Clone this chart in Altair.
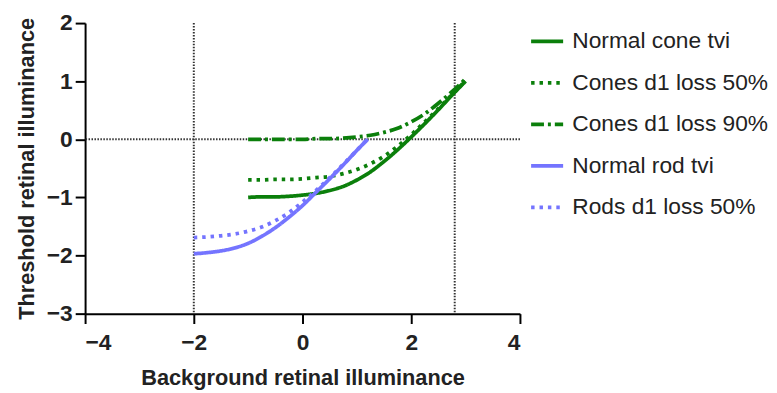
import altair as alt
import pandas as pd

# ---- data ----
series_names = ["Normal cone tvi", "Cones d1 loss 50%", "Cones d1 loss 90%",
                "Normal rod tvi", "Rods d1 loss 50%"]

cone_x = [-1.0, -0.75, -0.5, -0.25, 0.0, 0.25, 0.5, 0.75, 1.0, 1.25, 1.5, 1.75,
          2.0, 2.25, 2.5, 2.75, 3.0]
cone_normal = [-1.00, -0.99, -0.99, -0.98, -0.96, -0.93, -0.88, -0.81, -0.70,
               -0.56, -0.38, -0.18, 0.04, 0.27, 0.51, 0.76, 1.00]
cone_loss50 = [-0.70, -0.70, -0.69, -0.69, -0.68, -0.66, -0.64, -0.59, -0.52,
               -0.42, -0.29, -0.12, 0.08, 0.30, 0.53, 0.77, 1.01]
cone_loss90 = [0.00, 0.00, 0.00, 0.00, 0.00, 0.01, 0.01, 0.02, 0.04, 0.07,
               0.12, 0.19, 0.30, 0.44, 0.62, 0.82, 1.04]

rod_x = [-2.0, -1.75, -1.5, -1.25, -1.0, -0.75, -0.5, -0.25, 0.0, 0.25, 0.5,
         0.75, 1.0, 1.2]
rod_normal = [-1.97, -1.95, -1.92, -1.87, -1.79, -1.67, -1.52, -1.34, -1.14,
              -0.91, -0.68, -0.44, -0.19, 0.00]
rod_loss50 = [-1.69, -1.68, -1.66, -1.63, -1.58, -1.51, -1.40, -1.26, -1.08,
              -0.88, -0.66, -0.43, -0.19, 0.01]

ref_x = [-2.0, 2.8]
ref_y = [0.0]

x_ticks = [-4, -2, 0, 2, 4]
y_ticks = [-3, -2, -1, 0, 1, 2]

# ---- build tables ----
rows = []
for xs, ys, name in [(cone_x, cone_normal, series_names[0]),
                     (cone_x, cone_loss50, series_names[1]),
                     (cone_x, cone_loss90, series_names[2]),
                     (rod_x, rod_normal, series_names[3]),
                     (rod_x, rod_loss50, series_names[4])]:
    for xv, yv in zip(xs, ys):
        rows.append({"x": xv, "y": yv, "series": name})
df = pd.DataFrame(rows)
draw_rank = {series_names[4]: 0, series_names[2]: 1, series_names[1]: 2,
             series_names[3]: 3, series_names[0]: 4}
df["rank"] = df["series"].map(draw_rank)

green = "#0b7f0b"
blue = "#7474ff"
colors = [green, green, green, blue, blue]
dashes = [[1, 0], [3.5, 5], [13, 4, 3, 4], [1, 0], [3.5, 5]]

x_scale = alt.Scale(domain=[-4, 4], nice=False, zero=False)
y_scale = alt.Scale(domain=[-3, 2], nice=False, zero=False)

legend = alt.Legend(symbolType="stroke", symbolSize=1050, symbolStrokeWidth=3.8,
                    labelFontSize=23, labelFont="Liberation Sans",
                    labelColor="#222222", rowPadding=11, labelOffset=7,
                    offset=9, padding=0, labelLimit=300)

lines = alt.Chart(df).mark_line(strokeWidth=3.8, interpolate="monotone").encode(
    x=alt.X("x:Q", scale=x_scale,
            axis=alt.Axis(values=x_ticks, format="d", labelPadding=8,
                          title="Background retinal illuminance")),
    y=alt.Y("y:Q", scale=y_scale,
            axis=alt.Axis(values=y_ticks, format="d",
                          title="Threshold retinal illuminance")),
    color=alt.Color("series:N", scale=alt.Scale(domain=series_names, range=colors),
                    legend=legend, title=None),
    strokeDash=alt.StrokeDash("series:N",
                              scale=alt.Scale(domain=series_names, range=dashes),
                              legend=legend, title=None),
    order=alt.Order("rank:Q"),
)

vrules = alt.Chart(pd.DataFrame({"x": ref_x})).mark_rule(
    color="#333333", strokeWidth=2, strokeDash=[1.5, 1.5]).encode(
    x=alt.X("x:Q", scale=x_scale))
hrules = alt.Chart(pd.DataFrame({"y": ref_y})).mark_rule(
    color="#333333", strokeWidth=2, strokeDash=[1.5, 1.5]).encode(
    y=alt.Y("y:Q", scale=y_scale))

chart = alt.layer(vrules, hrules, lines).properties(
    width=440, height=294, padding={"left": 7, "top": 2, "right": 0, "bottom": 0}
).configure_view(stroke=None).configure_axis(
    grid=False,
    domainColor="black", domainWidth=2,
    tickColor="black", tickWidth=2, tickSize=10,
    labelFont="Liberation Sans", labelFontWeight="bold", labelFontSize=23,
    labelColor="#222222", labelPadding=3,
    titleFont="Liberation Sans", titleFontWeight="bold", titleFontSize=22,
    titleColor="#222222",
).configure_axisX(titlePadding=14).configure_axisY(titlePadding=8)

chart.save("out.html", embed_options={"renderer": "svg", "actions": False})
